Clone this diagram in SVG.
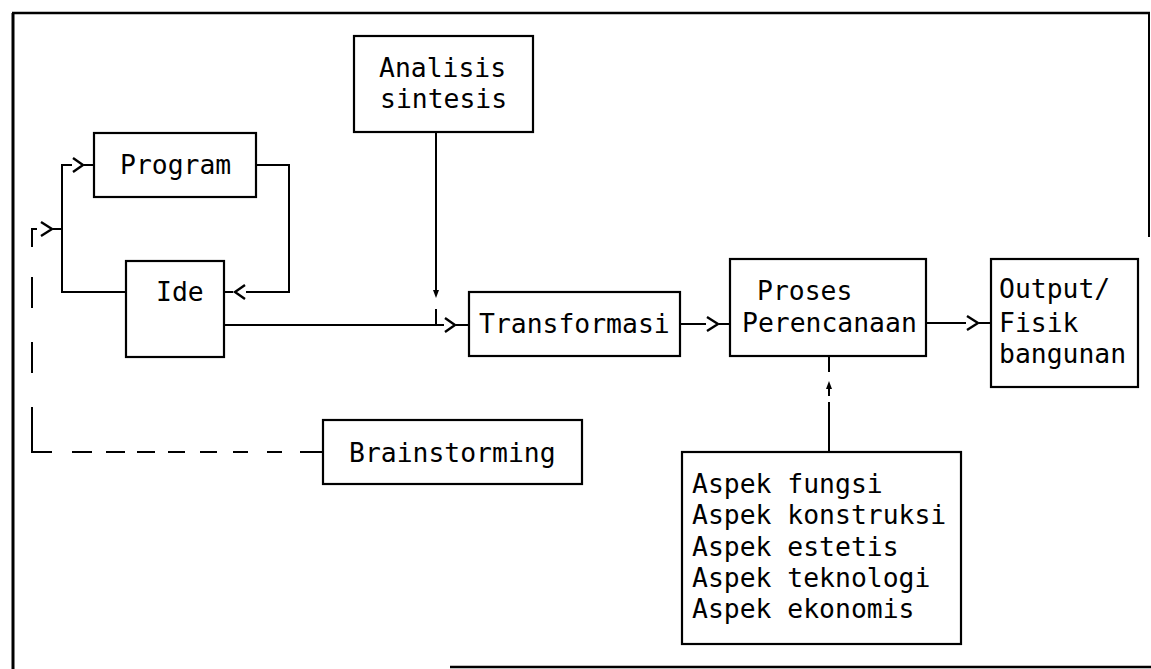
<svg xmlns="http://www.w3.org/2000/svg" width="1151" height="669" viewBox="0 0 1151 669">
<style>
  .box { fill: #fff; stroke: #000; stroke-width: 2.2; }
  .t { font-family: "DejaVu Sans Mono", "Liberation Mono", monospace; font-size: 26.4px; fill: #000; }
  .ln { fill: none; stroke: #000; stroke-width: 2; }
  .chev { fill: none; stroke: #000; stroke-width: 2.4; stroke-linejoin: miter; }
  .frame { fill: none; stroke: #000; }
</style>
<rect width="1151" height="669" fill="#fff"/>
<g id="frame">
  <line class="frame" x1="13" y1="13" x2="13" y2="669" stroke-width="3"/>
  <line class="frame" x1="12" y1="13" x2="1150" y2="13" stroke-width="2.5"/>
  <line class="frame" x1="1149" y1="12" x2="1149" y2="237" stroke-width="2"/>
  <line class="frame" x1="450" y1="667" x2="1151" y2="667" stroke-width="2.5"/>
</g>
<g id="connectors">
  <!-- Program / Ide loop, left side -->
  <polyline class="ln" points="126,292 62,292 62,165 72,165"/>
  <polyline class="chev" points="73,158 83,165 73,172"/>
  <line class="ln" x1="84" y1="165" x2="94" y2="165"/>
  <!-- Program right to Ide -->
  <polyline class="ln" points="256,165 289,165 289,292 246,292"/>
  <polyline class="chev" points="245,285 235,292 245,299"/>
  <line class="ln" x1="233" y1="292" x2="224" y2="292"/>
  <!-- Brainstorming dashed feedback -->
  <line class="ln" x1="323" y1="452" x2="300" y2="452"/>
  <path class="ln" d="M282,452H267 M248,452H233 M217,452H200 M185,452H168 M155,452H137 M125,452H106 M92,452H72 M52,452H32V407 M32,373V342 M32,308V277 M32,247V229H37"/>
  <polyline class="chev" points="41,222 52,229 41,236"/>
  <line class="ln" x1="53" y1="229" x2="62" y2="229"/>
  <!-- Ide to Transformasi -->
  <line class="ln" x1="224" y1="325" x2="444" y2="325"/>
  <polyline class="chev" points="445,318 455,325 445,332"/>
  <line class="ln" x1="456" y1="325" x2="469" y2="325"/>
  <!-- Analisis down -->
  <line class="ln" x1="436" y1="132" x2="436" y2="290"/>
  <polygon points="433,290 439,290 436,298" fill="#000"/>
  <line class="ln" x1="436" y1="309" x2="436" y2="325"/>
  <!-- Transformasi to Proses -->
  <line class="ln" x1="680" y1="324" x2="706" y2="324"/>
  <polyline class="chev" points="707,317 718,324 707,331"/>
  <line class="ln" x1="719" y1="324" x2="730" y2="324"/>
  <!-- Proses to Output -->
  <line class="ln" x1="926" y1="323" x2="966" y2="323"/>
  <polyline class="chev" points="967,316 978,323 967,330"/>
  <line class="ln" x1="979" y1="323" x2="991" y2="323"/>
  <!-- Aspek up to Proses -->
  <line class="ln" x1="829" y1="452" x2="829" y2="402"/>
  <line class="ln" x1="829" y1="396" x2="829" y2="388"/>
  <polygon points="826,389 832,389 829,381" fill="#000"/>
  <line class="ln" x1="829" y1="372" x2="829" y2="356"/>
</g>
<g id="program">
  <rect class="box" x="94" y="133" width="162" height="64"/>
  <text class="t" x="120" y="174">Program</text>
</g>
<g id="ide">
  <rect class="box" x="126" y="261" width="98" height="96"/>
  <text class="t" x="156" y="301">Ide</text>
</g>
<g id="analisis">
  <rect class="box" x="354" y="36" width="179" height="96"/>
  <text class="t" x="379" y="77">Analisis</text>
  <text class="t" x="380" y="108">sintesis</text>
</g>
<g id="transformasi">
  <rect class="box" x="469" y="292" width="211" height="64"/>
  <text class="t" x="479" y="333">Transformasi</text>
</g>
<g id="proses">
  <rect class="box" x="730" y="259" width="196" height="97"/>
  <text class="t" x="757" y="300">Proses</text>
  <text class="t" x="742" y="332">Perencanaan</text>
</g>
<g id="output">
  <rect class="box" x="991" y="259" width="147" height="128"/>
  <text class="t" x="999" y="298">Output/</text>
  <text class="t" x="999" y="332">Fisik</text>
  <text class="t" x="999" y="363">bangunan</text>
</g>
<g id="brainstorming">
  <rect class="box" x="323" y="420" width="259" height="64"/>
  <text class="t" x="349" y="462">Brainstorming</text>
</g>
<g id="aspek">
  <rect class="box" x="682" y="452" width="279" height="192"/>
  <text class="t" x="692" y="493">Aspek fungsi</text>
  <text class="t" x="692" y="524">Aspek konstruksi</text>
  <text class="t" x="692" y="556">Aspek estetis</text>
  <text class="t" x="692" y="587">Aspek teknologi</text>
  <text class="t" x="692" y="618">Aspek ekonomis</text>
</g>
</svg>
